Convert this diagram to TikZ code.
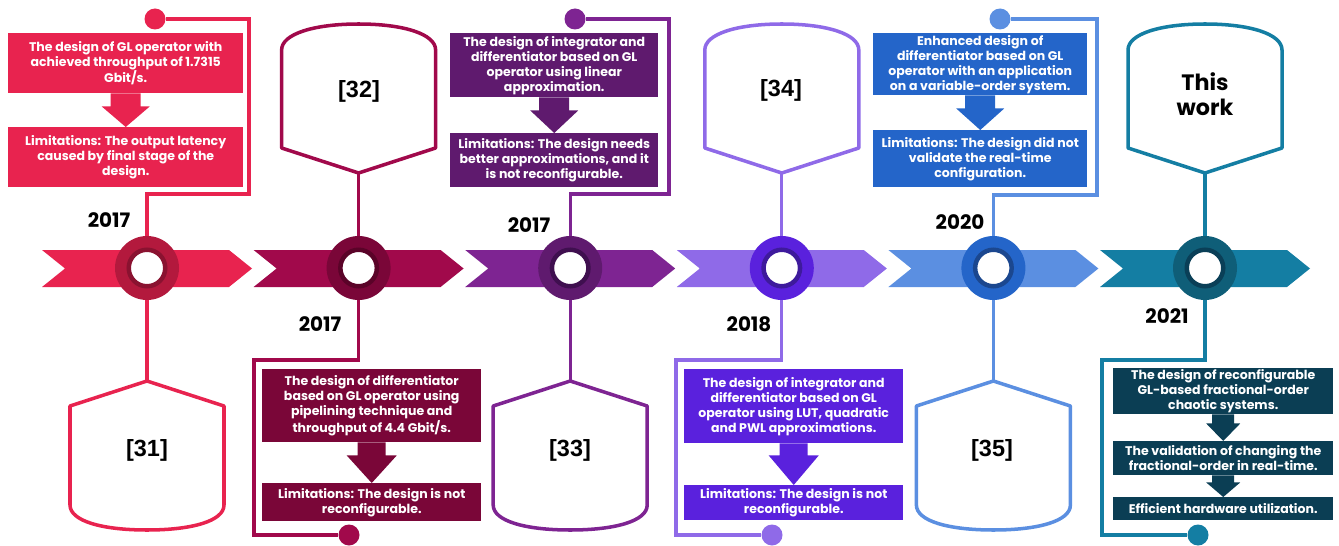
\documentclass[tikz,border=0pt]{standalone}
\usepackage{fontspec}
\setmainfont{Poppins}
\setsansfont{Liberation Sans}
\usepackage{tikz}
\usetikzlibrary{calc}
\definecolor{lineA}{HTML}{E8234F}
\definecolor{hubA}{HTML}{B3193D}
\definecolor{ringA}{HTML}{8A1230}
\definecolor{lineB}{HTML}{A1094B}
\definecolor{hubB}{HTML}{7A0638}
\definecolor{ringB}{HTML}{5A0328}
\definecolor{lineC}{HTML}{7E2492}
\definecolor{hubC}{HTML}{5F1A6E}
\definecolor{ringC}{HTML}{3F0F4F}
\definecolor{lineD}{HTML}{8F6AE8}
\definecolor{hubD}{HTML}{5A21DD}
\definecolor{ringD}{HTML}{3E1A9C}
\definecolor{lineE}{HTML}{5B8FE1}
\definecolor{hubE}{HTML}{2465C9}
\definecolor{ringE}{HTML}{1B478F}
\definecolor{lineF}{HTML}{147EA3}
\definecolor{hubF}{HTML}{0F5E78}
\definecolor{ringF}{HTML}{0A3F57}
\definecolor{boxF}{HTML}{0B3E54}
\tikzset{
  link/.style={draw=#1, line width=2.6pt},
  shield/.style={draw=#1, line width=3pt, fill=white, line join=round},
  hub/.style={circle, fill=#1, minimum size=64*0.3mm, inner sep=0pt},
  dot/.style={circle, fill=#1, minimum size=21*0.3mm, inner sep=0pt},
  wh/.style 2 args={minimum width=#1*0.3mm, minimum height=#2*0.3mm},
  info/.style={fill=#1, text=white, align=center, inner sep=0pt, anchor=north west,
    font=\fontsize{10.7}{12.8}\selectfont\bfseries},
  year/.style={font=\fontsize{17}{20}\selectfont\bfseries},
  ref/.style={font=\sffamily\fontsize{20}{22}\selectfont\bfseries},
  fatarrow/.style args={#1/#2/#3}{to path={
    ($(\tikztostart)+(-#1,0)$) -- ($(\tikztostart)+(#1,0)$) -- ($(\tikztostart)+(#1,#3)$)
    -- ($(\tikztostart)+(#2,#3)$) -- (\tikztotarget) -- ($(\tikztostart)+(-#2,#3)$)
    -- ($(\tikztostart)+(-#1,#3)$) -- cycle}},
}

\begin{document}
\begin{tikzpicture}[x=0.3mm, y=-0.3mm]
  \useasboundingbox (0,0) rectangle (1339,546);

  % timeline band
  \foreach \i/\col in {0/lineA,1/lineB,2/lineC,3/lineD,4/lineE,5/lineF}
    \fill[\col] ({42+211.6*\i},250) -- ++(187,0) -- ++(23,18.5) -- ++(-23,18.5)
      -- ++(-187,0) -- ++(23,-18.5) -- cycle;

  % hubs
  \node[hub=hubA] (c1) at (147,268) {};
  \node[hub=hubB] (c2) at (358.6,268) {};
  \node[hub=hubC] (c3) at (570.2,268) {};
  \node[hub=hubD] (c4) at (781.8,268) {};
  \node[hub=hubE] (c5) at (993.4,268) {};
  \node[hub=hubF] (c6) at (1205,268) {};
  \foreach \n/\col in {1/ringA,2/ringB,3/ringC,4/ringD,5/ringE,6/ringF}
    \filldraw[fill=white, draw=\col, line width=3.84pt] (c\n) circle (18.25);

  % years
  \node[year] (y1) at (109,220) {2017};
  \node[year] (y2) at (320,324) {2017};
  \node[year] (y3) at (529,225) {2017};
  \node[year] (y4) at (749,324) {2018};
  \node[year] (y5) at (960,222) {2020};
  \node[year] (y6) at (1167,316) {2021};

  % reference shields
  \foreach \n/\x/\col in {2/358.6/lineB,4/781.8/lineD,6/1205/lineF} {
    \draw[shield=\col] (\x-77,148) -- (\x-77,50) .. controls (\x-77,34) and (\x-45,24) .. (\x,24)
      .. controls (\x+45,24) and (\x+77,34) .. (\x+77,50) -- (\x+77,148) -- (\x,173) -- cycle;
    \coordinate (s\n) at (\x,173);
  }
  \foreach \n/\x/\col in {1/147/lineA,3/570.2/lineC,5/993.4/lineE} {
    \draw[shield=\col] (\x,381) -- (\x+77,406) -- (\x+77,505) .. controls (\x+77,521) and (\x+45,530) .. (\x,530)
      .. controls (\x-45,530) and (\x-77,521) .. (\x-77,505) -- (\x-77,406) -- cycle;
    \coordinate (s\n) at (\x,381);
  }
  \node[ref] (r1) at (147,450) {[31]};
  \node[ref] (r2) at (359,91) {[32]};
  \node[ref] (r3) at (570,450) {[33]};
  \node[ref] (r4) at (781,90) {[34]};
  \node[ref] (r5) at (992,450) {[35]};
  \node[font=\fontsize{19}{21}\selectfont\bfseries, align=center] (r6) at (1205,94) {This\\work};

  \draw[link=lineA] (c1.south) -- (s1);
  \draw[link=lineB] (s2) -- (c2.north);
  \draw[link=lineC] (c3.south) -- (s3);
  \draw[link=lineD] (s4) -- (c4.north);
  \draw[link=lineE] (c5.south) -- (s5);
  \draw[link=lineF] (s6) -- (c6.north);

  % description boxes
  \node[info=lineA, wh={235}{60}] (b1a) at (8,33)
    {The design of GL operator with\\achieved throughput of 1.7315\\Gbit/s.};
  \node[info=lineA, wh={235}{60}] (b1b) at (8,127)
    {Limitations: The output latency\\caused by final stage of the\\design.};
  \node[info=hubB, wh={219}{73}] (b2a) at (262,369)
    {The design of differentiator\\based on GL operator using\\pipelining technique and\\throughput of 4.4 Gbit/s.};
  \node[info=hubB, wh={219}{38}] (b2b) at (262,483)
    {Limitations: The design is not\\reconfigurable.};
  \node[info=hubC, wh={208}{64}] (b3a) at (450,33)
    {The design of integrator and\\differentiator based on GL\\operator using linear\\approximation.};
  \node[info=hubC, wh={208}{54}] (b3b) at (450,133)
    {Limitations: The design needs\\better approximations, and it\\is not reconfigurable.};
  \node[info=hubD, wh={219}{74}] (b4a) at (684,369)
    {The design of integrator and\\differentiator based on GL\\operator using LUT, quadratic\\and PWL approximations.};
  \node[info=hubD, wh={219}{35}] (b4b) at (684,485)
    {Limitations: The design is not\\reconfigurable.};
  \node[info=hubE, wh={214}{62}] (b5a) at (873,33)
    {Enhanced design of\\differentiator based on GL\\operator with an application\\on a variable-order system.};
  \node[info=hubE, wh={214}{57}] (b5b) at (873,130)
    {Limitations: The design did not\\validate the real-time\\configuration.};
  \node[info=boxF, wh={220}{46}] (b6a) at (1113,368)
    {The design of reconfigurable\\GL-based fractional-order\\chaotic systems.};
  \node[info=boxF, wh={220}{34}] (b6b) at (1113,441)
    {The validation of changing the\\fractional-order in real-time.};
  \node[info=boxF, wh={220}{23}] (b6c) at (1113,497)
    {Efficient hardware utilization.};

  \fill[lineA, fatarrow=15/24/13] (b1a.south) to (b1b.north);
  \fill[hubB, fatarrow=14/25/13] (b2a.south) to (b2b.north);
  \fill[hubC, fatarrow=15/24/13] (b3a.south) to (b3b.north);
  \fill[hubD, fatarrow=14/25/12] (b4a.south) to (b4b.north);
  \fill[hubE, fatarrow=15/24/13] (b5a.south) to (b5b.north);
  \fill[boxF, fatarrow=11/17/9] (b6a.south) to (b6b.north);
  \fill[boxF, fatarrow=11/17/7] (b6b.south) to (b6c.north);

  % end dots and routes
  \node[dot=lineA] (d1) at (155,19) {};
  \node[dot=lineB] (d2) at (349,535) {};
  \node[dot=lineC] (d3) at (575,19) {};
  \node[dot=lineD] (d4) at (772,535) {};
  \node[dot=lineE] (d5) at (1000,19) {};
  \node[dot=lineF] (d6) at (1198,535) {};

  \draw[link=lineA] (c1.north) |- (249,194) |- (d1);
  \draw[link=lineC] (c3.north) |- (669,194) |- (d3);
  \draw[link=lineE] (c5.north) |- (1097,195) |- (d5);
  \draw[link=lineB] (c2.south) |- (254,360) |- (d2);
  \draw[link=lineD] (c4.south) |- (676,360) |- (d4);
  \draw[link=lineF] (c6.south) |- (1102,360) |- (d6);
\end{tikzpicture}
\end{document}
